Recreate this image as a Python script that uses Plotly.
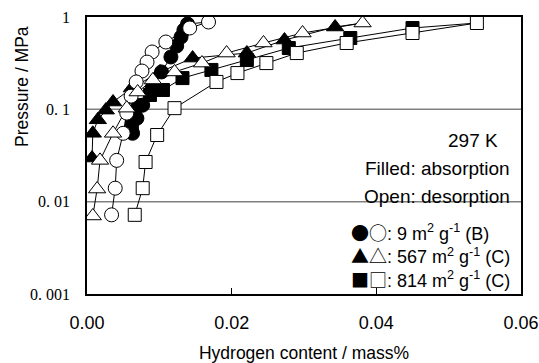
import plotly.graph_objects as go

# ---- data (Hydrogen content in mass%, Pressure in MPa) ----
b_abs_x = [0.0063, 0.0069, 0.0077, 0.0090, 0.0103, 0.0116, 0.0124, 0.0130, 0.0134, 0.0139]
b_abs_p = [0.055, 0.080, 0.111, 0.170, 0.254, 0.369, 0.485, 0.607, 0.723, 0.840]
b_des_x = [0.0168, 0.0142, 0.0109, 0.0090, 0.0083, 0.0076, 0.0068, 0.0061, 0.0055, 0.0050, 0.0041, 0.0039, 0.0034]
b_des_p = [0.883, 0.760, 0.536, 0.418, 0.325, 0.260, 0.198, 0.139, 0.091, 0.055, 0.028, 0.014, 0.0072]

c567_abs_x = [0.0007, 0.0008, 0.0015, 0.0026, 0.0036, 0.0062, 0.0101, 0.0146, 0.0221, 0.0273, 0.0343]
c567_abs_p = [0.0297, 0.055, 0.077, 0.098, 0.120, 0.170, 0.254, 0.359, 0.407, 0.563, 0.779]
c567_des_x = [0.0381, 0.0298, 0.0244, 0.0193, 0.0159, 0.0121, 0.0091, 0.0070, 0.0055, 0.0036, 0.0018, 0.0014, 0.0008]
c567_des_p = [0.861, 0.671, 0.523, 0.407, 0.317, 0.254, 0.208, 0.154, 0.103, 0.055, 0.028, 0.0137, 0.0070]

c814_abs_x = [0.0062, 0.0066, 0.0070, 0.0087, 0.0105, 0.0132, 0.0172, 0.0221, 0.0279, 0.0364, 0.0450]
c814_abs_p = [0.064, 0.0825, 0.111, 0.143, 0.162, 0.218, 0.267, 0.342, 0.461, 0.592, 0.760]
c814_des_x = [0.0539, 0.0450, 0.0359, 0.0290, 0.0248, 0.0208, 0.0179, 0.0121, 0.0097, 0.0081, 0.0077, 0.0066]
c814_des_p = [0.861, 0.671, 0.523, 0.407, 0.317, 0.247, 0.198, 0.103, 0.0527, 0.0269, 0.0140, 0.0072]

x_tickvals = [0.0, 0.02, 0.04, 0.06]
x_ticktext = ["0.00", "0.02", "0.04", "0.06"]
y_tickvals = [1, 0.1, 0.01, 0.001]
y_ticktext = ["1", "0. 1", "0. 01", "0. 001"]

legend_symbols = ["●○", "▲△", "■□"]
legend_labels = [": 9 m<sup>2</sup> g<sup>-1</sup> (B)",
                 ": 567 m<sup>2</sup> g<sup>-1</sup> (C)",
                 ": 814 m<sup>2</sup> g<sup>-1</sup> (C)"]
info_lines = ["297 K", "Filled: absorption", "Open: desorption"]
x_title = "Hydrogen content / mass%"
y_title = "Pressure / MPa"

series = [
    (b_abs_x, b_abs_p, b_des_x, b_des_p, "circle", 14),
    (c567_abs_x, c567_abs_p, c567_des_x, c567_des_p, "triangle-up", 15),
    (c814_abs_x, c814_abs_p, c814_des_x, c814_des_p, "square", 13),
]

fig = go.Figure()
for ax, ap, dx, dp, sym, sz in series:
    # absorption line continues to the first desorption (top) point
    fig.add_trace(go.Scatter(x=ax + [dx[0]], y=ap + [dp[0]], mode="lines",
                             line=dict(color="black", width=1), showlegend=False,
                             hoverinfo="skip"))
    fig.add_trace(go.Scatter(x=dx, y=dp, mode="lines",
                             line=dict(color="black", width=1), showlegend=False,
                             hoverinfo="skip"))
for ax, ap, dx, dp, sym, sz in series:
    fig.add_trace(go.Scatter(x=ax, y=ap, mode="markers", showlegend=False,
                             marker=dict(symbol=sym, size=sz, color="black",
                                         line=dict(color="black", width=1))))
for ax, ap, dx, dp, sym, sz in series:
    fig.add_trace(go.Scatter(x=dx, y=dp, mode="markers", showlegend=False,
                             marker=dict(symbol=sym, size=sz, color="white",
                                         line=dict(color="black", width=1))))

# gridlines at 0.1 and 0.01
for yv in [0.1, 0.01]:
    fig.add_shape(type="line", xref="paper", yref="y", x0=0, x1=1, y0=yv, y1=yv,
                  line=dict(color="#808080", width=1.5), layer="below")

SANS = "Liberation Sans, Arial, sans-serif"
PL, PR, PT, PB = 87, 521, 17, 294
W, H = PR - PL, PB - PT

def px_x(px):
    return (px - PL) / W

def px_y(py):
    return (PB - py) / H

info_pos = [(500, 140), (512, 168), (512, 196)]
for t, (px, py) in zip(info_lines, info_pos):
    fig.add_annotation(xref="paper", yref="paper", x=px_x(px), y=px_y(py),
                       text=t, showarrow=False, xanchor="right", yanchor="middle",
                       font=dict(family=SANS, size=19, color="black"))

legend_rows = ['<span style="font-family:\'Noto Sans CJK JP\'">' + s + '</span>' + t
               for s, t in zip(legend_symbols, legend_labels)]
fig.add_annotation(xref="paper", yref="paper", x=px_x(349), y=px_y(255),
                   text="<br>".join(legend_rows), showarrow=False,
                   xanchor="left", yanchor="middle", align="left",
                   font=dict(family=SANS, size=18, color="black"))

fig.add_annotation(xref="paper", yref="paper", x=px_x(22), y=px_y(87),
                   text=y_title, textangle=-90, showarrow=False,
                   xanchor="center", yanchor="middle",
                   font=dict(family=SANS, size=17.5, color="black"))

fig.update_layout(
    width=539, height=363,
    margin=dict(l=PL, r=539 - PR, t=PT, b=363 - PB, autoexpand=False),
    paper_bgcolor="white", plot_bgcolor="white",
    showlegend=False,
    xaxis=dict(range=[0, 0.06], tickvals=x_tickvals, ticktext=x_ticktext,
               automargin=False,
               showgrid=False, zeroline=False, showline=True, mirror=True,
               linecolor="black", linewidth=1.5, ticks="inside", ticklen=6,
               tickcolor="black", tickwidth=1, ticklabelstandoff=12,
               tickfont=dict(family=SANS, size=18, color="black"),
               title=dict(text=x_title, standoff=16,
                          font=dict(family=SANS, size=17.5, color="black"))),
    yaxis=dict(type="log", range=[-3, 0], tickvals=y_tickvals, ticktext=y_ticktext,
               automargin=False,
               showgrid=False, zeroline=False, showline=True, mirror=True,
               linecolor="black", linewidth=1.5, ticks="", ticklabelstandoff=12,
               tickfont=dict(family="Liberation Serif, Times New Roman, serif", size=16, color="black")),
)

fig.write_html("out.html")
